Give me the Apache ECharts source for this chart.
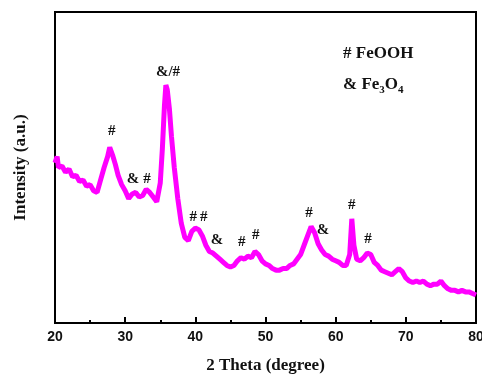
<!DOCTYPE html>
<html>
<head>
<meta charset="UTF-8">
<title>XRD</title>
<script src="https://cdn.jsdelivr.net/npm/echarts@6/dist/echarts.min.js"></script>
<style>
  html, body { margin: 0; padding: 0; background: #fff; }
  #main { width: 482px; height: 376px; }
</style>
</head>
<body>
<div id="main"></div>
<script>
// 2 theta (degree) and intensity (a.u.)
var twoTheta = [
  20.0, 20.3, 20.5, 21.0, 21.5, 22.0, 22.5, 23.0, 23.5, 24.0, 24.5, 25.0, 25.5, 26.0, 26.5, 27.0, 27.5, 27.8, 28.2, 28.6,
  29.0, 29.5, 30.0, 30.5, 31.0, 31.5, 32.0, 32.5, 33.0, 33.5, 34.0, 34.5, 35.0, 35.3, 35.6, 35.8, 36.0, 36.3, 36.6, 37.0,
  37.5, 38.0, 38.5, 39.0, 39.5, 40.0, 40.5, 41.0, 41.5, 42.0, 42.5, 43.0, 43.5, 44.0, 44.5, 45.0, 45.5, 46.0, 46.5, 47.0,
  47.5, 48.0, 48.5, 49.0, 49.5, 50.0, 50.5, 51.0, 51.5, 52.0, 52.5, 53.0, 53.5, 54.0, 54.5, 55.0, 55.5, 56.0, 56.5, 57.0,
  57.5, 58.0, 58.5, 59.0, 59.5, 60.0, 60.5, 61.0, 61.5, 62.0, 62.3, 62.6, 63.0, 63.5, 64.0, 64.5, 65.0, 65.5, 66.0, 66.5,
  67.0, 67.5, 68.0, 68.5, 69.0, 69.5, 70.0, 70.5, 71.0, 71.5, 72.0, 72.5, 73.0, 73.5, 74.0, 74.5, 75.0, 75.5, 76.0, 76.5,
  77.0, 77.5, 78.0, 78.5, 79.0, 79.5, 80.0
];
var intensity = [
  51.5, 53.5, 50.0, 50.5, 48.5, 49.5, 47.0, 47.5, 45.5, 46.0, 44.0, 44.5, 42.5, 42.0, 46.0, 50.0, 53.5, 56.5, 54.0, 51.0,
  47.5, 44.5, 42.5, 40.0, 41.5, 42.0, 40.5, 41.0, 43.0, 42.0, 40.5, 39.0, 45.0, 56.0, 70.0, 76.5, 75.0, 69.0, 60.0, 50.0,
  40.0, 32.0, 27.5, 26.5, 29.5, 30.5, 30.0, 28.0, 25.0, 23.0, 22.5, 21.5, 20.5, 19.5, 18.5, 18.0, 18.5, 20.0, 21.0, 20.5,
  21.5, 21.0, 23.0, 22.0, 20.0, 19.0, 18.5, 17.5, 17.0, 17.0, 17.5, 17.5, 18.5, 19.0, 20.5, 22.0, 25.0, 28.0, 31.0, 29.0,
  25.5, 23.5, 22.0, 21.5, 20.5, 20.0, 19.5, 18.5, 18.5, 22.0, 33.5, 25.0, 20.5, 20.0, 21.0, 22.5, 22.0, 19.5, 18.5, 17.0,
  16.5, 16.0, 15.5, 16.5, 17.5, 16.5, 14.5, 13.5, 13.0, 13.5, 13.0, 13.5, 12.5, 12.0, 12.5, 12.5, 13.5, 12.0, 11.0, 10.5,
  10.5, 10.0, 10.5, 10.0, 10.0, 9.5, 9.0
];

// peak markers
var markX = [28.1, 31.1, 33.1, 36.1, 39.7, 41.2, 43.1, 46.6, 48.6, 56.2, 58.2, 62.3, 64.6];
var markY = [61.7, 46.3, 46.3, 80.7, 34.1, 34.1, 26.7, 26.0, 28.3, 35.4, 29.9, 37.9, 27.0];
var markText = ['#', '&', '#', '&/#', '#', '#', '&', '#', '#', '#', '&', '#', '#'];

var xTicks = [20, 30, 40, 50, 60, 70, 80];

var lineData = twoTheta.map(function (x, i) { return [x, intensity[i]]; });
var markData = markX.map(function (x, i) { return { value: [x, markY[i]], name: markText[i] }; });

var serif = '"Liberation Serif", "Times New Roman", serif';
var chart = echarts.init(document.getElementById('main'));
chart.setOption({
  animation: false,
  backgroundColor: '#fff',
  grid: {
    left: 55, top: 12, right: 6, bottom: 53, outerBoundsMode: 'none', containLabel: false,
    show: true, borderColor: '#000', borderWidth: 2
  },
  xAxis: {
    type: 'value', min: xTicks[0], max: xTicks[xTicks.length - 1], interval: 10,
    name: '2 Theta (degree)', nameLocation: 'middle', nameGap: 34,
    nameTextStyle: { fontFamily: serif, fontWeight: 'bold', fontSize: 17, color: '#111' },
    axisLine: { lineStyle: { color: '#000', width: 2 } },
    axisTick: { inside: true, length: 6, lineStyle: { color: '#000', width: 2 } },
    minorTick: { show: true, splitNumber: 2, length: 3, lineStyle: { color: '#000', width: 2 } },
    axisLabel: { margin: 7, fontFamily: '"Liberation Sans", Arial, sans-serif', fontWeight: 'bold', fontSize: 14, color: '#111' },
    splitLine: { show: false }
  },
  yAxis: {
    type: 'value', min: 0, max: 100,
    name: 'Intensity (a.u.)', nameLocation: 'middle', nameGap: 26,
    nameTextStyle: { fontFamily: serif, fontWeight: 'bold', fontSize: 17, color: '#111' },
    axisLine: { show: true, lineStyle: { color: '#000', width: 2 } },
    axisTick: { show: false },
    axisLabel: { show: false },
    splitLine: { show: false }
  },
  graphic: [
    { type: 'text', left: 343, top: 45, style: { text: '# FeOOH', font: 'bold 17px ' + serif, fill: '#111' } },
    { type: 'text', left: 343, top: 76, style: {
        text: '{n|& Fe}{s|3}{n|O}{s|4}', fill: '#111',
        rich: {
          n: { font: 'bold 17px ' + serif, fill: '#111' },
          s: { font: 'bold 11px ' + serif, fill: '#111', padding: [12, 0, 0, 0] }
        }
    } }
  ],
  series: [
    {
      type: 'line', data: lineData, showSymbol: false, smooth: false, z: 2,
      lineStyle: { color: '#ff00ff', width: 5 }
    },
    {
      type: 'scatter', data: markData, symbolSize: 1, z: 3,
      itemStyle: { color: 'rgba(0,0,0,0)' },
      label: {
        show: true, position: 'inside', formatter: '{b}', opacity: 1,
        fontFamily: serif, fontWeight: 'bold', fontSize: 15, color: '#111',
        textBorderWidth: 0, textBorderColor: 'transparent'
      }
    }
  ]
});
</script>
</body>
</html>
